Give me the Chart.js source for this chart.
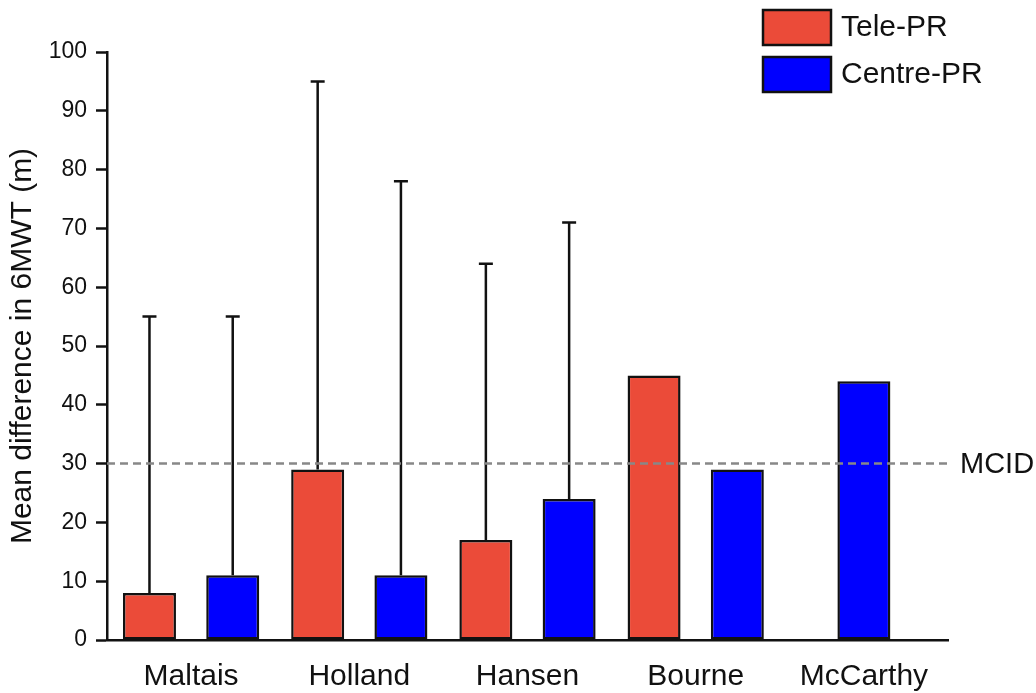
<!DOCTYPE html>
<html>
<head>
<meta charset="utf-8">
<script src="https://cdn.jsdelivr.net/npm/chart.js@4/dist/chart.umd.min.js"></script>
<style>
    html, body { margin: 0; padding: 0; background: #fff; }
    #wrap { width: 1036px; height: 693px; }
</style>
</head>
<body>
<div id="wrap"><canvas id="chart"></canvas></div>
<script>
const studies = ['Maltais', 'Holland', 'Hansen', 'Bourne', 'McCarthy'];

// mean difference and upper end of the error bar
const teleMeans = [8, 29, 17, 45, null];
const teleUpper = [55, 95, 64, null, null];
const centreMeans = [11, 11, 24, 29, 44];
const centreUpper = [55, 78, 71, null, null];

const yTicks = [0, 10, 20, 30, 40, 50, 60, 70, 80, 90, 100];
const mcid = 30;

const RED = '#EB4B39';
const BLUE = '#0000FF';
const FONT = "'Liberation Sans', Arial, sans-serif";

// Upper error bars, drawn over the bars.
const errorBars = {
    id: 'errorBars',
    afterDatasetsDraw(chart) {
        const ctx = chart.ctx;
        const y = chart.scales.y;
        chart.data.datasets.forEach((ds, i) => {
            const meta = chart.getDatasetMeta(i);
            meta.data.forEach((bar, j) => {
                const upper = ds.upper[j];
                if (upper == null || ds.data[j] == null) return;
                const top = y.getPixelForValue(upper);
                ctx.save();
                ctx.strokeStyle = '#111';
                ctx.lineWidth = 2.5;
                ctx.beginPath();
                ctx.moveTo(bar.x, bar.y);
                ctx.lineTo(bar.x, top);
                ctx.moveTo(bar.x - 7, top);
                ctx.lineTo(bar.x + 7, top);
                ctx.stroke();
                ctx.restore();
            });
        });
    }
};

// Dashed MCID reference line with its label.
const mcidLine = {
    id: 'mcidLine',
    afterDatasetsDraw(chart) {
        const ctx = chart.ctx;
        const area = chart.chartArea;
        const yy = chart.scales.y.getPixelForValue(mcid);
        ctx.save();
        ctx.strokeStyle = '#888';
        ctx.lineWidth = 2.5;
        ctx.setLineDash([8, 5]);
        ctx.beginPath();
        ctx.moveTo(area.left, yy);
        ctx.lineTo(area.right, yy);
        ctx.stroke();
        ctx.setLineDash([]);
        ctx.fillStyle = '#111';
        ctx.font = '29px ' + FONT;
        ctx.textBaseline = 'middle';
        ctx.textAlign = 'left';
        ctx.fillText('MCID', area.right + 12, yy + 1);
        ctx.restore();
    }
};

// Legend in the top right corner.
const boxLegend = {
    id: 'boxLegend',
    afterDraw(chart) {
        const ctx = chart.ctx;
        ctx.save();
        chart.data.datasets.forEach((ds, i) => {
            const top = 10 + i * 47;
            ctx.fillStyle = ds.backgroundColor;
            ctx.fillRect(763, top, 68, 35);
            ctx.strokeStyle = '#111';
            ctx.lineWidth = 2.5;
            ctx.strokeRect(763, top, 68, 35);
            ctx.fillStyle = '#111';
            ctx.font = '30px ' + FONT;
            ctx.textBaseline = 'middle';
            ctx.textAlign = 'left';
            ctx.fillText(ds.label, 841, top + 18);
        });
        ctx.restore();
    }
};

const chart = new Chart(document.getElementById('chart'), {
    type: 'bar',
    data: {
        labels: studies,
        datasets: [
            {
                label: 'Tele-PR',
                data: teleMeans,
                upper: teleUpper,
                backgroundColor: RED,
                borderColor: '#111',
                borderWidth: 2.5,
                borderSkipped: false,
                skipNull: true
            },
            {
                label: 'Centre-PR',
                data: centreMeans,
                upper: centreUpper,
                backgroundColor: BLUE,
                borderColor: '#111',
                borderWidth: 2.5,
                borderSkipped: false,
                skipNull: true
            }
        ]
    },
    options: {
        responsive: true,
        maintainAspectRatio: false,
        animation: false,
        categoryPercentage: 0.99,
        barPercentage: 0.64,
        maxBarThickness: 53,
        layout: {
            padding: { top: 52, right: 88, left: 0, bottom: 0 }
        },
        plugins: {
            legend: { display: false },
            tooltip: { enabled: false }
        },
        scales: {
            x: {
                afterFit: (scale) => { scale.height = 53; },
                grid: { display: true, drawOnChartArea: false, drawTicks: false },
                border: { display: true, color: '#111', width: 2.5 },
                ticks: {
                    color: '#111',
                    padding: 19,
                    font: { family: FONT, size: 30 }
                }
            },
            y: {
                min: 0,
                max: 100,
                afterFit: (scale) => { scale.width = 107; },
                afterBuildTicks: (scale) => {
                    scale.ticks = yTicks.map((v) => ({ value: v }));
                },
                grid: {
                    display: true,
                    drawOnChartArea: false,
                    drawTicks: true,
                    tickLength: 11,
                    tickColor: '#111',
                    tickWidth: 2.5
                },
                border: { display: true, color: '#111', width: 2.5 },
                ticks: {
                    color: '#111',
                    padding: 9,
                    font: { family: FONT, size: 23 }
                },
                title: {
                    display: true,
                    text: 'Mean difference in 6MWT (m)',
                    color: '#111',
                    padding: { top: 5, bottom: 0 },
                    font: { family: FONT, size: 30 }
                }
            }
        }
    },
    plugins: [errorBars, mcidLine, boxLegend]
});
</script>
</body>
</html>
